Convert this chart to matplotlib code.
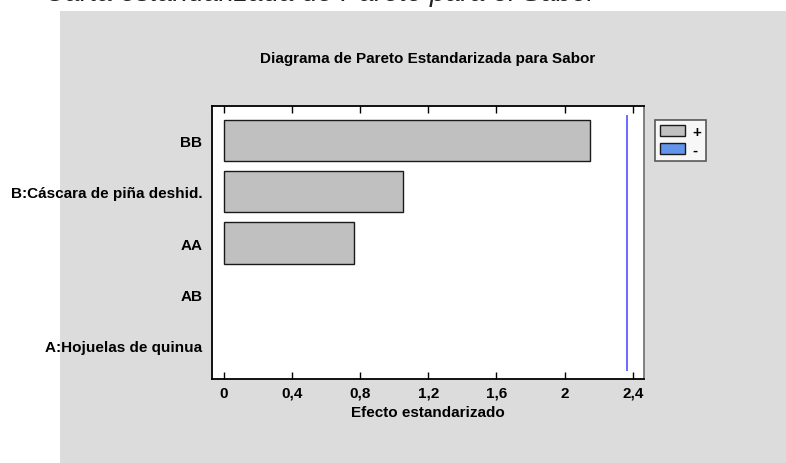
import matplotlib
matplotlib.use("Agg")
import matplotlib.pyplot as plt
from matplotlib.patches import Rectangle, Patch

plt.rcParams['font.family'] = ['Liberation Sans', 'DejaVu Sans']

# Effects in Pareto order (top to bottom)
effects = ["BB", "B:Cáscara de piña deshid.", "AA", "AB", "A:Hojuelas de quinua"]
std_effect = [2.151, 1.053, 0.763, 0.0, 0.0]
critical_value = 2.365
x_ticks = [0, 0.4, 0.8, 1.2, 1.6, 2.0, 2.4]
x_tick_labels = ["0", "0,4", "0,8", "1,2", "1,6", "2", "2,4"]
legend_labels = ["+", "-"]

W, H = 786, 464
FS = 11
fig = plt.figure(figsize=(W / 100, H / 100), dpi=100)
fig.patch.set_facecolor("white")

# Gray backdrop behind the chart
fig.patches.append(Rectangle((60 / W, 0), 1 - 60 / W, (H - 12) / H,
                             transform=fig.transFigure, facecolor="#dcdcdc",
                             edgecolor="none", zorder=-10))

# Caption above the backdrop, cropped at the top edge
fig.text(45 / W, 1 - 1.0 / H, "Carta estandarizada de Pareto para el Sabor",
         fontsize=20, style="italic", color="#222222", ha="left",
         va="baseline")

ax = fig.add_axes([212 / W, (H - 380) / H, 432 / W, 273 / H])
ax.set_facecolor("white")

pos = list(range(len(effects)))
for p, v in zip(pos, std_effect):
    if v > 0:
        ax.barh(p, v, height=0.8, left=0, color="#c0c0c0",
                edgecolor="#1a1a1a", linewidth=1.0, zorder=2)

ax.vlines(critical_value, -0.5, 4.5, color="#5050ff", linewidth=1.2, zorder=3)

ax.set_xlim(-0.07, 2.466)
ax.set_ylim(4.65, -0.67)
ax.set_yticks(pos)
ax.set_yticklabels(effects, fontsize=FS, fontweight="bold")
ax.tick_params(axis="y", length=0, pad=7)
ax.set_xticks(x_ticks)
ax.set_xticklabels(x_tick_labels, fontsize=FS, fontweight="bold")
ax.tick_params(axis="x", direction="in", length=5, width=1, top=True,
               bottom=True, pad=5)
ax.set_xlabel("Efecto estandarizado", fontsize=FS, fontweight="bold",
              labelpad=4)
for s in ax.spines.values():
    s.set_linewidth(1.3)
    s.set_color("black")
ax.spines["right"].set_color("#777777")

ax.set_title("Diagrama de Pareto Estandarizada para Sabor", fontsize=FS,
             fontweight="bold", pad=32)

handles = [Patch(facecolor="#c0c0c0", edgecolor="#1a1a1a"),
           Patch(facecolor="#6495ed", edgecolor="#1a1a1a")]
leg = fig.legend(handles, legend_labels, loc="upper left",
                 bbox_to_anchor=(655 / W, 1 - 121 / H), frameon=True,
                 fancybox=False, fontsize=FS, handlelength=1.64,
                 handleheight=0.72, handletextpad=0.5, borderpad=0.3,
                 labelspacing=0.25, borderaxespad=0)
leg.get_frame().set_edgecolor("#333333")
leg.get_frame().set_linewidth(1.2)
for t in leg.get_texts():
    t.set_fontweight("bold")

fig.savefig("out.png", dpi=100)
